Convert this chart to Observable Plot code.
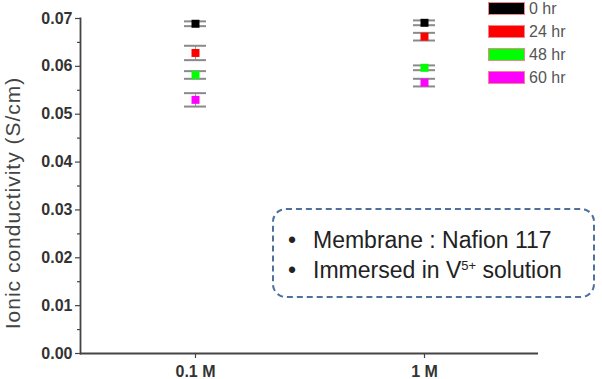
<!DOCTYPE html>
<html>
<head>
<meta charset="utf-8">
<script src="https://cdn.jsdelivr.net/npm/d3@7"></script>
<script src="https://cdn.jsdelivr.net/npm/@observablehq/plot@0.6"></script>
<style>
  body { margin: 0; background: #fff; }
  #wrap { position: relative; width: 602px; height: 379px; font-family: "Liberation Sans", Arial, sans-serif; }
  .leg { position: absolute; left: 488px; width: 37px; height: 13px; box-sizing: border-box; border: 1px solid #e88; }
  .legt { position: absolute; left: 529px; font-size: 16px; color: #555; line-height: 16px; }
  #note { position: absolute; left: 272px; top: 208px; width: 323px; height: 90px; box-sizing: border-box;
          border: 2px dashed #4f6f9c; border-radius: 14px; font-size: 23px; color: #222; }
  #note div { position: absolute; left: 14px; white-space: nowrap; line-height: 24px; }
  #note sup { font-size: 13px; vertical-align: 0; position: relative; top: -8px; }
  #wrap svg .ylab text { letter-spacing: 1px; }
</style>
</head>
<body>
<div id="wrap"></div>
<script>
const categories = ["0.1 M", "1 M"];
const series = ["0 hr", "24 hr", "48 hr", "60 hr"];
const colors = ["#000000", "#ff0000", "#00ff00", "#ff00ff"];
const values01 = [0.0689, 0.0628, 0.0582, 0.0530];
const errors01 = [0.0005, 0.0015, 0.0008, 0.0014];
const values1 = [0.0691, 0.0662, 0.0597, 0.0566];
const errors1 = [0.0005, 0.0008, 0.0005, 0.0008];
const yTicks = [0, 0.01, 0.02, 0.03, 0.04, 0.05, 0.06, 0.07];
const yMinorTicks = [0.005, 0.015, 0.025, 0.035, 0.045, 0.055, 0.065];
const yLabel = "Ionic conductivity (S/cm)";
const noteLines = ["Membrane : Nafion 117", "Immersed in V<sup>5+</sup> solution"];

const data = [];
series.forEach((s, i) => {
  data.push({conc: categories[0], series: s, v: values01[i], e: errors01[i]});
  data.push({conc: categories[1], series: s, v: values1[i], e: errors1[i]});
});

const chart = Plot.plot({
  width: 602, height: 379,
  marginLeft: 80, marginRight: 64, marginTop: 18, marginBottom: 26,
  style: {fontFamily: "Liberation Sans, Arial, sans-serif", color: "#333", background: "transparent"},
  x: {type: "band", domain: categories, paddingInner: 0.904, paddingOuter: 0.452},
  y: {domain: [0, 0.07]},
  color: {domain: series, range: colors},
  marks: [
    Plot.axisY({ticks: yTicks, tickFormat: d3.format(".2f"), tickSize: 5, tickPadding: 3, fontWeight: "bold", fontSize: 16,
                label: null, stroke: "#444", strokeWidth: 1.2}),
    Plot.axisY({ticks: yMinorTicks, tickFormat: () => "", tickSize: 3, label: null, stroke: "#444", strokeWidth: 1.2}),
    Plot.axisX({tickSize: 5, tickFormat: () => "", label: null, stroke: "#444", strokeWidth: 1.2}),
    Plot.text(categories, {x: d => d, frameAnchor: "bottom", lineAnchor: "top", dy: 12, fontSize: 16, fontWeight: "bold", fill: "#333"}),
    Plot.text([yLabel], {frameAnchor: "left", rotate: -90, textAnchor: "middle", dx: -67, dy: 17, fontSize: 21, fill: "#444", className: "ylab"}),
    Plot.ruleY([0], {stroke: "#444", strokeWidth: 1.8}),
    Plot.frame({anchor: "left", stroke: "#444", strokeWidth: 1.8}),
    Plot.ruleX(data, {x: "conc", y1: d => d.v - d.e, y2: d => d.v + d.e, stroke: "#999", strokeWidth: 1}),
    Plot.tickY(data, {x: "conc", y: d => d.v - d.e, stroke: "#8a8a8a", strokeWidth: 2}),
    Plot.tickY(data, {x: "conc", y: d => d.v + d.e, stroke: "#8a8a8a", strokeWidth: 2}),
    Plot.dot(data, {x: "conc", y: "v", fill: "series", symbol: "square", r: 4.5})
  ]
});
const wrap = document.getElementById("wrap");
wrap.appendChild(chart);

const legTops = [2, 25, 48, 71];
series.forEach((s, i) => {
  const sw = document.createElement("div");
  sw.className = "leg";
  sw.style.top = legTops[i] + "px";
  sw.style.background = colors[i];
  wrap.appendChild(sw);
  const t = document.createElement("div");
  t.className = "legt";
  t.style.top = (legTops[i] - 1) + "px";
  t.textContent = s;
  wrap.appendChild(t);
});

const note = document.createElement("div");
note.id = "note";
noteLines.forEach((l, i) => {
  const d = document.createElement("div");
  d.style.top = (18 + i * 30) + "px";
  d.innerHTML = "<span style='display:inline-block;width:25px'>•</span>" + l;
  note.appendChild(d);
});
wrap.appendChild(note);
</script>
</body>
</html>
